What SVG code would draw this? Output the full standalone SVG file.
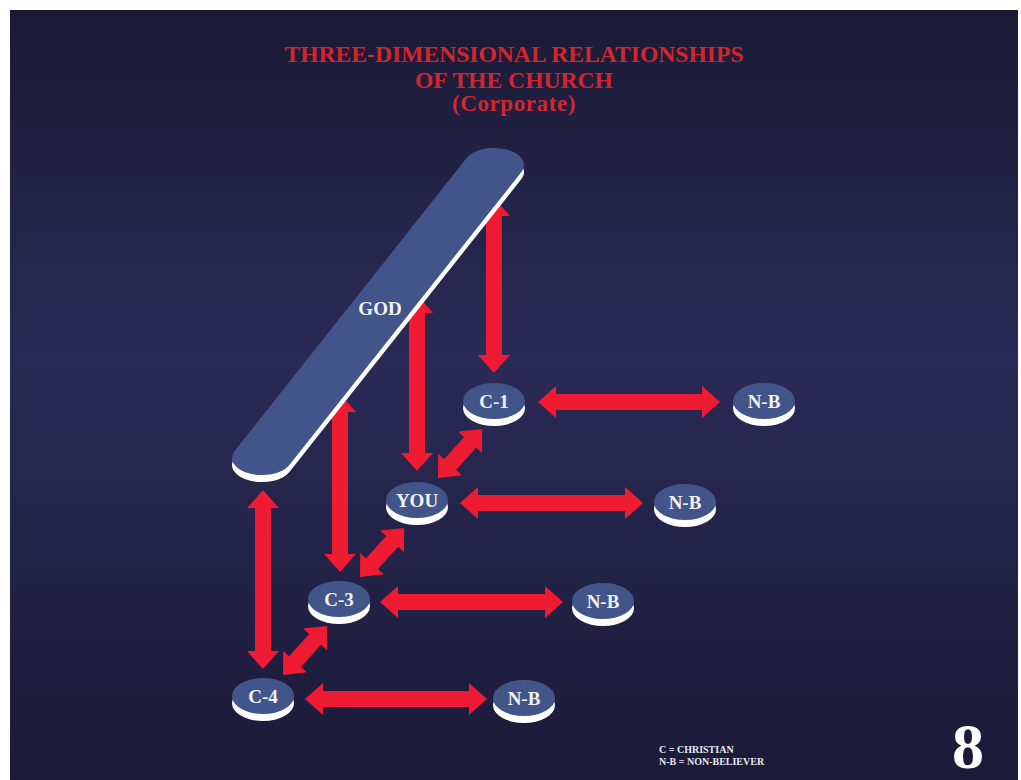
<svg xmlns="http://www.w3.org/2000/svg" xmlns:xlink="http://www.w3.org/1999/xlink" width="1021" height="780" viewBox="0 0 1021 780">
  <defs>
    <linearGradient id="bg" x1="0" y1="0" x2="0" y2="1">
      <stop offset="0" stop-color="#1b1a35"/>
      <stop offset="0.45" stop-color="#2a2a56"/>
      <stop offset="1" stop-color="#1b1a38"/>
    </linearGradient>
    <!-- short double arrow used on the diagonals between neighbours -->
    <path id="diag" d="M0 0 L18 -16 L18 -8 L48 -8 L48 -16 L66 0 L48 16 L48 8 L18 8 L18 16 Z"/>
    <style>
      .title { font-family: "Liberation Serif", "Times New Roman", serif; font-weight: bold; fill: #d3252f; text-anchor: middle; }
      .arrow { fill: #ee1b33; }
      .base { fill: #ffffff; }
      .disc { fill: #42558a; }
      .label { font-family: "Liberation Serif", "Times New Roman", serif; font-weight: bold; font-size: 19px; fill: #f2f2f2; text-anchor: middle; }
      .legend { font-family: "Liberation Serif", "Times New Roman", serif; font-weight: bold; font-size: 10px; fill: #e8e8ee; }
    </style>
  </defs>

  <rect x="0" y="0" width="1021" height="780" fill="#ffffff"/>
  <rect x="10" y="10" width="1008" height="770" fill="url(#bg)"/>

  <g id="title">
    <text class="title" x="514" y="62" font-size="23.6">THREE-DIMENSIONAL RELATIONSHIPS</text>
    <text class="title" x="514" y="88" font-size="23.6">OF THE CHURCH</text>
    <text class="title" x="514" y="111" font-size="23" letter-spacing="0.6">(Corporate)</text>
  </g>

  <!-- connectors: drawn before the plank so the upper heads tuck beneath it -->
  <g id="connectors" class="arrow">
    <polygon points="494,198 510,216 502,216 502,355 510,355 494,373 478,355 486,355 486,216 478,216"/>
    <polygon points="417,295 433,313 425,313 425,453 433,453 417,471 401,453 409,453 409,313 401,313"/>
    <polygon points="340,394 356,412 348,412 348,554 356,554 340,572 324,554 332,554 332,412 324,412"/>
    <polygon points="263,490 279,508 271,508 271,651 279,651 263,669 247,651 255,651 255,508 247,508"/>

    <polygon points="538,402 556,386 556,394 702,394 702,386 720,402 702,418 702,410 556,410 556,418"/>
    <polygon points="460,503 478,487 478,495 625,495 625,487 643,503 625,519 625,511 478,511 478,519"/>
    <polygon points="380,602 398,586 398,594 545,594 545,586 563,602 545,618 545,610 398,610 398,618"/>
    <polygon points="305,699 323,683 323,691 469,691 469,683 487,699 469,715 469,707 323,707 323,715"/>

    <use xlink:href="#diag" transform="translate(438 478) rotate(-48)"/>
    <use xlink:href="#diag" transform="translate(360 577) rotate(-48)"/>
    <use xlink:href="#diag" transform="translate(283 675) rotate(-48)"/>
  </g>

  <g id="god">
    <path class="base" transform="translate(0 7)" d="M466.6 158 A30 17 0 0 1 521.4 172 L289.4 465 A30 17 0 0 1 234.6 451 Z"/>
    <path class="disc" d="M466.6 158 A30 17 0 0 1 521.4 172 L289.4 465 A30 17 0 0 1 234.6 451 Z"/>
    <text class="label" x="380" y="315">GOD</text>
  </g>

  <g id="c1">
    <ellipse class="base" cx="494" cy="408" rx="31" ry="18"/>
    <ellipse class="disc" cx="494" cy="401" rx="31" ry="18"/>
    <text class="label" x="494" y="408">C-1</text>
  </g>
  <g id="nb1">
    <ellipse class="base" cx="764" cy="408" rx="31" ry="18"/>
    <ellipse class="disc" cx="764" cy="401" rx="31" ry="18"/>
    <text class="label" x="764" y="408">N-B</text>
  </g>
  <g id="you">
    <ellipse class="base" cx="417" cy="507" rx="31" ry="18"/>
    <ellipse class="disc" cx="417" cy="500" rx="31" ry="18"/>
    <text class="label" x="417" y="507" font-size="17">YOU</text>
  </g>
  <g id="nb2">
    <ellipse class="base" cx="685" cy="509" rx="31" ry="18"/>
    <ellipse class="disc" cx="685" cy="502" rx="31" ry="18"/>
    <text class="label" x="685" y="509">N-B</text>
  </g>
  <g id="c3">
    <ellipse class="base" cx="339" cy="606" rx="31" ry="18"/>
    <ellipse class="disc" cx="339" cy="599" rx="31" ry="18"/>
    <text class="label" x="339" y="606">C-3</text>
  </g>
  <g id="nb3">
    <ellipse class="base" cx="603" cy="608" rx="31" ry="18"/>
    <ellipse class="disc" cx="603" cy="601" rx="31" ry="18"/>
    <text class="label" x="603" y="608">N-B</text>
  </g>
  <g id="c4">
    <ellipse class="base" cx="263" cy="703" rx="31" ry="18"/>
    <ellipse class="disc" cx="263" cy="696" rx="31" ry="18"/>
    <text class="label" x="263" y="703">C-4</text>
  </g>
  <g id="nb4">
    <ellipse class="base" cx="524" cy="705" rx="31" ry="18"/>
    <ellipse class="disc" cx="524" cy="698" rx="31" ry="18"/>
    <text class="label" x="524" y="705">N-B</text>
  </g>

  <g id="legend">
    <text class="legend" x="659" y="753">C = CHRISTIAN</text>
    <text class="legend" x="659" y="765">N-B = NON-BELIEVER</text>
  </g>

  <text id="page-number" x="968" y="768" font-family="Liberation Serif, 'Times New Roman', serif" font-weight="bold" font-size="64" fill="#ffffff" text-anchor="middle">8</text>
</svg>
